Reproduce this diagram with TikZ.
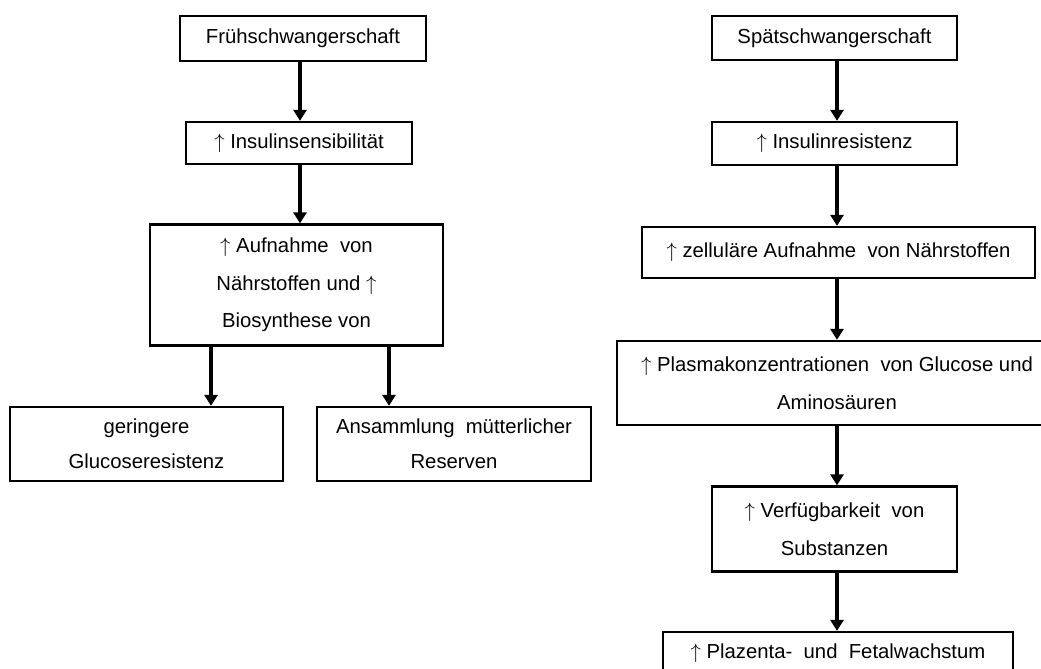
\documentclass[tikz,border=0pt]{standalone}
\usepackage{fontspec}
\setmainfont{Liberation Sans}
\usetikzlibrary{arrows.meta}
\newcommand{\up}{$\uparrow$}
\begin{document}
\begin{tikzpicture}[x=1pt,y=-1pt,
  box/.style={draw, line width=2.3pt, inner sep=0pt, align=center,
    font=\fontsize{20.3}{37.5}\selectfont},
  arr/.style={line width=3.4pt, -{Triangle[width=13pt,length=11pt]}}]
\useasboundingbox (0,0) rectangle (1041,669);
% left column
\node[box, minimum width=246, minimum height=45] (f1) at (303,38.5) {Frühschwangerschaft};
\node[box, minimum width=226, minimum height=42] (f2) at (299,143) {\up\ Insulinsensibilität};
\node[box, minimum width=293, minimum height=121] (f3) at (296.5,285)
  {\up\ Aufnahme\ \ von\\Nährstoffen und \up\\Biosynthese von};
\node[box, minimum width=273, minimum height=74, font=\fontsize{20.3}{35}\selectfont] (f4) at (146.5,444)
  {geringere\\Glucoseresistenz};
\node[box, minimum width=274, minimum height=74, font=\fontsize{20.3}{35}\selectfont] (f5) at (454,444)
  {Ansammlung\ \ mütterlicher\\Reserven};
\coordinate (cx) at (300,0);
\coordinate (lx) at (211,0);
\coordinate (rx) at (389,0);
% right column
\node[box, minimum width=245, minimum height=44] (s1) at (834.5,38) {Spätschwangerschaft};
\node[box, minimum width=245, minimum height=43] (s2) at (834.5,143.5) {\up\ Insulinresistenz};
\node[box, minimum width=393, minimum height=51] (s3) at (838.5,252.5) {\up\ zelluläre Aufnahme\ \ von Nährstoffen};
\node[box, minimum width=440, minimum height=84] (s4) at (837,383)
  {\up\ Plasmakonzentrationen\ \ von Glucose und\\Aminosäuren};
\node[box, minimum width=245, minimum height=85] (s5) at (834.5,529)
  {\up\ Verfügbarkeit\ \ von\\Substanzen};
\node[box, minimum width=350, minimum height=42] (s6) at (838,653)
  {\up\ Plazenta-\ \ und\ \ Fetalwachstum};
\coordinate (sx) at (837,0);
% connectors
\draw[arr] (f1.south -| cx) -- (f2.north -| cx);
\draw[arr] (f2.south -| cx) -- (f3.north -| cx);
\draw[arr] (f3.south -| lx) -- (f4.north -| lx);
\draw[arr] (f3.south -| rx) -- (f5.north -| rx);
\draw[arr] (s1.south -| sx) -- (s2.north -| sx);
\draw[arr] (s2.south -| sx) -- (s3.north -| sx);
\draw[arr] (s3.south -| sx) -- (s4.north -| sx);
\draw[arr] (s4.south -| sx) -- (s5.north -| sx);
\draw[arr] (s5.south -| sx) -- (s6.north -| sx);
\end{tikzpicture}
\end{document}
